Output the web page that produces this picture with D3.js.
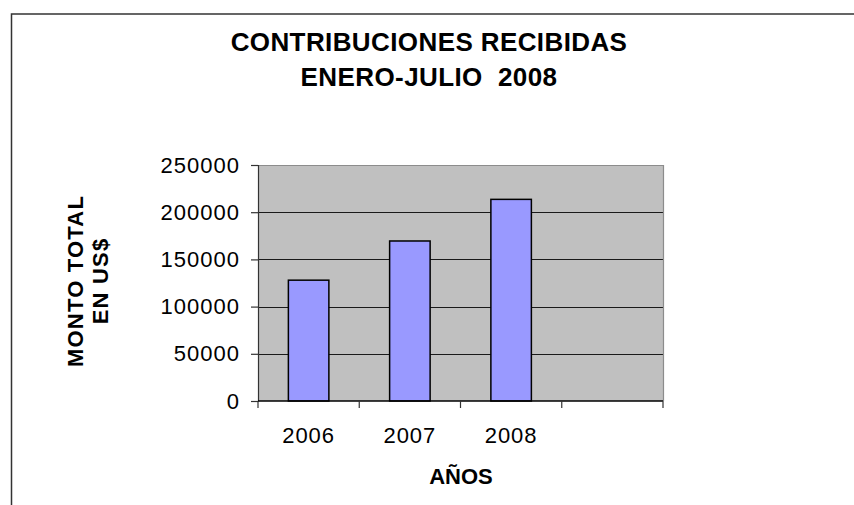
<!DOCTYPE html>
<html>
<head>
<meta charset="utf-8">
<script src="https://cdn.jsdelivr.net/npm/d3@7"></script>
<style>
  body { margin: 0; background: #fff; }
  svg { display: block; font-family: "Liberation Sans", Arial, sans-serif; }
</style>
</head>
<body>
<div class="js-chart"></div>
<script>
'use strict';

// data
const years = ['2006', '2007', '2008', ''];
const montos = [128000, 169500, 213600, null];
const yTicks = [0, 50000, 100000, 150000, 200000, 250000];
const titleLines = ['CONTRIBUCIONES RECIBIDAS', 'ENERO-JULIO  2008'];
const yTitleLines = ['MONTO TOTAL', 'EN US$'];
const xTitle = 'AÑOS';

const svgWidth = 854;
const svgHeight = 505;

// plot area
const plotLeft = 258, plotRight = 663, plotTop = 165, plotBottom = 401;

const svg = d3.select('.js-chart')
  .append('svg')
  .attr('width', svgWidth)
  .attr('height', svgHeight);

// outer chart border (runs off the right and bottom)
svg.append('rect')
  .attr('x', 11.5)
  .attr('y', 14)
  .attr('width', 900)
  .attr('height', 600)
  .attr('fill', 'none')
  .attr('stroke', '#333')
  .attr('stroke-width', 1.5);

const x = d3.scaleBand()
  .domain(years.map((d, i) => i))
  .range([plotLeft, plotRight])
  .paddingInner(0.6)
  .paddingOuter(0.3);

const y = d3.scaleLinear()
  .domain([0, 250000])
  .range([plotBottom, plotTop]);

// gray background
svg.append('rect')
  .attr('x', plotLeft)
  .attr('y', plotTop)
  .attr('width', plotRight - plotLeft)
  .attr('height', plotBottom - plotTop)
  .attr('fill', '#c0c0c0');

// grid lines
svg.append('g')
  .selectAll('line')
  .data(yTicks.filter(d => d > 0 && d < 250000))
  .enter()
  .append('line')
  .attr('x1', plotLeft)
  .attr('x2', plotRight)
  .attr('y1', d => Math.round(y(d)) + 0.5)
  .attr('y2', d => Math.round(y(d)) + 0.5)
  .attr('stroke', '#1a1a1a')
  .attr('stroke-width', 1.2);

// plot border top and right
svg.append('path')
  .attr('d', `M${plotLeft},${plotTop + 0.5}H${plotRight + 0.5}V${plotBottom}`)
  .attr('fill', 'none')
  .attr('stroke', '#8c8c8c')
  .attr('stroke-width', 1.2);

// bars
svg.append('g')
  .selectAll('rect')
  .data(montos.map((v, i) => ({ i: i, v: v })).filter(d => d.v != null))
  .enter()
  .append('rect')
  .attr('x', d => x(d.i))
  .attr('y', d => y(d.v))
  .attr('width', x.bandwidth())
  .attr('height', d => y(0) - y(d.v))
  .attr('fill', '#9999ff')
  .attr('stroke', '#000')
  .attr('stroke-width', 1.5);

// y axis
const yAxis = svg.append('g')
  .attr('transform', `translate(${plotLeft},0)`)
  .call(d3.axisLeft(y).tickValues(yTicks).tickSize(7).tickPadding(11).tickFormat(d3.format('d')));
yAxis.select('.domain').attr('stroke', '#333').attr('stroke-width', 1.2);
yAxis.selectAll('.tick line').attr('stroke', '#333').attr('stroke-width', 1.2);
yAxis.selectAll('.tick text')
  .attr('font-size', 22)
  .attr('letter-spacing', 1)
  .attr('fill', '#000')
  .attr('font-family', '"Liberation Sans", Arial, sans-serif');

// x axis line
svg.append('line')
  .attr('x1', plotLeft)
  .attr('x2', plotRight)
  .attr('y1', plotBottom)
  .attr('y2', plotBottom)
  .attr('stroke', '#000')
  .attr('stroke-width', 1.5);

// x tick marks at category boundaries
const boundaries = years.map((d, i) => x(i) - x.step() * x.paddingOuter()).concat([plotRight]);
svg.append('g')
  .selectAll('line')
  .data(boundaries)
  .enter()
  .append('line')
  .attr('x1', d => d)
  .attr('x2', d => d)
  .attr('y1', plotBottom)
  .attr('y2', plotBottom + 7)
  .attr('stroke', '#333')
  .attr('stroke-width', 1.2);

// x tick labels
svg.append('g')
  .selectAll('text')
  .data(years)
  .enter()
  .append('text')
  .attr('x', (d, i) => x(i) + x.bandwidth() / 2)
  .attr('y', 443)
  .attr('text-anchor', 'middle')
  .attr('font-size', 22)
  .attr('letter-spacing', 1)
  .text(d => d);

// title
svg.append('g')
  .selectAll('text')
  .data(titleLines)
  .enter()
  .append('text')
  .attr('x', 429)
  .attr('y', (d, i) => 51 + i * 35)
  .attr('text-anchor', 'middle')
  .attr('font-size', 26)
  .attr('font-weight', 'bold')
  .attr('letter-spacing', 0.4)
  .style('white-space', 'pre')
  .text(d => d);

// y axis title
svg.append('g')
  .attr('transform', 'translate(0,281) rotate(-90)')
  .selectAll('text')
  .data(yTitleLines)
  .enter()
  .append('text')
  .attr('x', 0)
  .attr('y', (d, i) => 83 + i * 25)
  .attr('text-anchor', 'middle')
  .attr('font-size', 22)
  .attr('font-weight', 'bold')
  .attr('letter-spacing', 1.2)
  .text(d => d);

// x axis title
svg.append('text')
  .attr('x', 461)
  .attr('y', 484)
  .attr('text-anchor', 'middle')
  .attr('font-size', 22)
  .attr('font-weight', 'bold')
  .text(xTitle);
</script>
</body>
</html>
